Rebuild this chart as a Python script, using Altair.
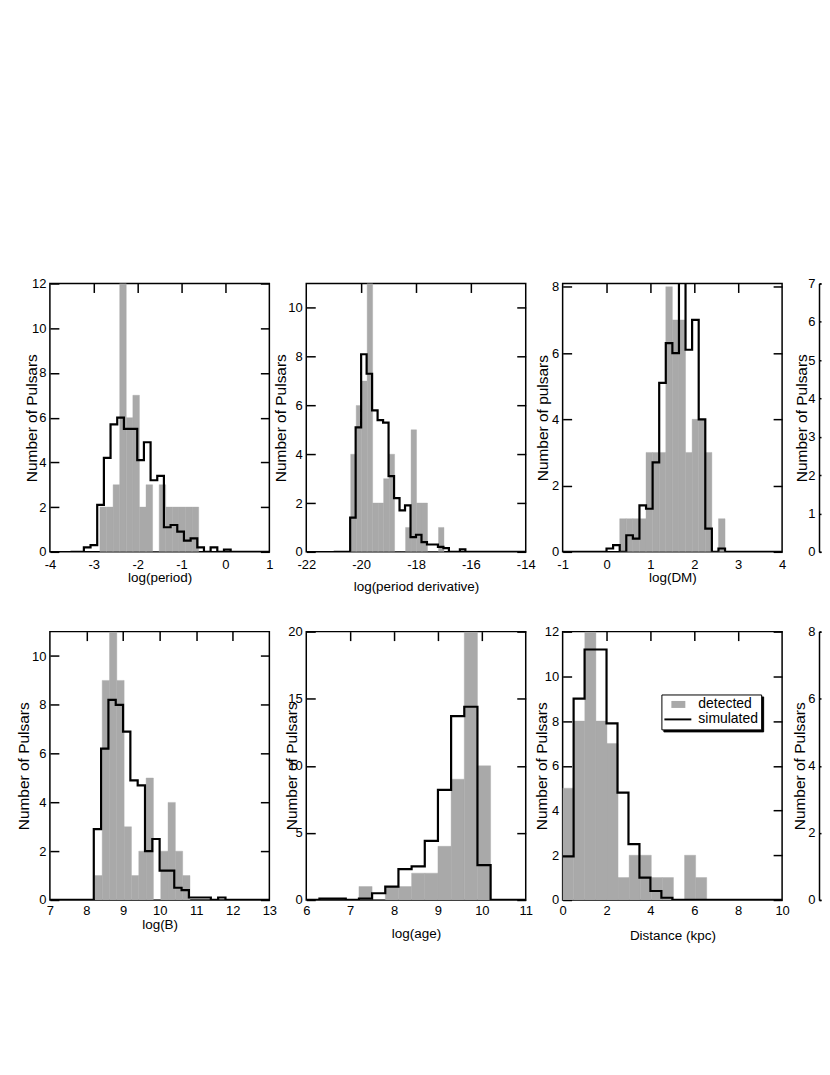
import altair as alt
import pandas as pd

FONT = "Liberation Sans"
GREY = "#a9a9a9"
W, H = 220, 269
W4 = 2  # visible strip of the cut-off fourth column

# ---------------- data ----------------
# detected = grey histogram bars (start of first bin, bin width, counts)
# simulated = black step line  (start of first bin, bin width, mean counts)

period_det_start, period_det_width = -2.86, 0.15
period_det = [2, 2, 3, 12, 6, 7, 2, 3, 0, 3, 2, 2, 2, 2, 2]
period_sim_start, period_sim_width = -3.53, 0.152
period_sim = [0, 0, 0.2, 0.3, 2.1, 4.2, 5.7, 6.0, 5.5, 5.5, 4.1, 4.9, 3.2, 3.4, 1.1,
              1.2, 0.9, 0.5, 0.6, 0.2, 0, 0.2, 0, 0.1, 0, 0, 0, 0, 0, 0, 0]

pdot_det_start, pdot_det_width = -20.38, 0.2
pdot_det = [4, 6, 7, 11, 2, 2, 3, 4, 0, 0, 1, 5, 2, 2, 0, 0, 1]
pdot_sim_start, pdot_sim_width = -21.0, 0.2
pdot_sim = [0, 0, 0, 1.4, 5.1, 8.1, 7.3, 5.8, 5.4, 5.3, 3.1, 2.2, 1.7, 1.9, 0.6,
            0.7, 0.4, 0.3, 0.3, 0.2, 0.15, 0, 0, 0.1, 0, 0, 0, 0, 0, 0, 0, 0, 0, 0, 0]

dm_det_start, dm_det_width = 0.30, 0.15
dm_det = [1, 1, 1, 1, 3, 3, 3, 8, 7, 7, 3, 4, 4, 3, 0, 1]
dm_sim_start, dm_sim_width = -1.05, 0.15
dm_sim = [0, 0, 0, 0, 0, 0, 0, 0.1, 0.2, 0, 0.5, 0.4, 1.4, 1.3, 2.7, 5.1, 6.3, 6.0,
          8.3, 6.1, 7.0, 4.0, 0.7, 0, 0.1, 0, 0, 0, 0, 0, 0, 0, 0, 0]

b_det_start, b_det_width = 8.23, 0.2
b_det = [1, 9, 11, 9, 3, 1, 2, 5, 0, 2, 4, 2, 1]
b_sim_start, b_sim_width = 7.0, 0.2
b_sim = [0, 0, 0, 0, 0, 0, 2.9, 6.2, 8.2, 8.0, 6.9, 4.9, 4.7, 2.0, 2.5, 1.2, 1.2,
         0.5, 0.4, 0.1, 0.1, 0.1, 0, 0.1, 0, 0, 0, 0, 0, 0]

age_det_start, age_det_width = 7.2, 0.3
age_det = [1, 0, 1, 1, 2, 2, 4, 9, 20, 10]
age_sim_start, age_sim_width = 6.0, 0.3
age_sim = [0, 0.1, 0.1, 0, 0.1, 0.5, 1.0, 2.3, 2.5, 4.4, 8.2, 13.7, 14.4, 2.6, 0, 0, 0]

dist_det_start, dist_det_width = 0.0, 0.505
dist_det = [5, 8, 12, 8, 7, 1, 2, 2, 1, 1, 0, 2, 1]
dist_sim_start, dist_sim_width = 0.0, 0.5
dist_sim = [1.95, 9.0, 11.2, 11.2, 7.9, 4.8, 2.5, 1.0, 0.4, 0.1,
            0, 0, 0, 0, 0, 0, 0, 0, 0, 0]

legend_labels = ["detected", "simulated"]


def hist_frame(start, width, values):
    edges = [start + i * width for i in range(len(values) + 1)]
    return pd.DataFrame({"x0": edges[:-1], "x1": edges[1:], "n": values})


def step_frame(start, width, values):
    edges = [start + i * width for i in range(len(values) + 1)]
    return pd.DataFrame({"x": edges, "n": list(values) + [values[-1]]})


EMPTY_HIST = pd.DataFrame({"x0": pd.Series([], dtype=float),
                           "x1": pd.Series([], dtype=float),
                           "n": pd.Series([], dtype=float)})
EMPTY_STEP = pd.DataFrame({"x": pd.Series([], dtype=float),
                           "n": pd.Series([], dtype=float)})

LABEL_EXPR = "datum.value + ''"


def tick_axis(orient, offset, values, size=9, domain=False):
    return alt.Axis(orient=orient, offset=offset, values=values, labels=False, ticks=True,
                    tickSize=size, tickWidth=1.5, tickColor="black", grid=False,
                    domain=domain, domainColor="black", domainWidth=1.5)


def panel(det, sim, xdom, xvals, topvals, ydom, yvals, xtitle, ytitle,
          ytitle_x, xtitle_y, xlabel_pad, width=W, cut=False, extra=None):
    xs = alt.Scale(domain=xdom, nice=False, zero=False)
    ys = alt.Scale(domain=ydom, nice=False, zero=False)
    bars = alt.Chart(det).mark_rect(color=GREY, stroke=GREY, strokeWidth=0.4, clip=True).encode(
        x=alt.X("x0:Q", scale=xs, title=xtitle,
                axis=alt.Axis(values=xvals, ticks=False, tickSize=0, grid=False,
                              domain=cut, domainColor="black", domainWidth=1.5,
                              labelPadding=xlabel_pad, labelBaseline="middle",
                              labelExpr=LABEL_EXPR, labelFlush=False, labelOverlap=False,
                              titleY=xtitle_y, titleBaseline="middle", titleFontSize=13.5)),
        x2="x1:Q",
        y=alt.Y("n:Q", scale=ys, title=ytitle,
                axis=alt.Axis(values=yvals, ticks=False, tickSize=0, grid=False,
                              domain=cut, domainColor="black", domainWidth=1.5,
                              labelPadding=4, labelFlush=False, labelExpr=LABEL_EXPR,
                              labelOverlap=False, titleX=ytitle_x, titleY=H / 2,
                              titleBaseline="alphabetic")),
        y2=alt.datum(0),
    )
    if cut:
        line_y_axis = None
    else:
        line_y_axis = tick_axis("left", -width, yvals)
    line = alt.Chart(sim).mark_line(interpolate="step-after", color="black",
                                     strokeWidth=2.2, clip=True).encode(
        x=alt.X("x:Q", scale=xs, title=None,
                axis=tick_axis("bottom", -H, topvals, domain=cut)),
        y=alt.Y("n:Q", scale=ys, title=None, axis=line_y_axis),
    )
    inner = alt.Chart(sim).mark_line(opacity=0, clip=True).encode(
        x=alt.X("x:Q", scale=xs, axis=None),
        y=alt.Y("n:Q", scale=ys, title=None,
                axis=tick_axis("right", -width, yvals, size=(width if cut else 9))),
    )
    layers = [bars, line, inner]
    if extra is not None:
        layers.extend(extra)
    out = alt.layer(*layers).resolve_axis(x="independent", y="independent").properties(
        width=width, height=H)
    if cut:
        out = out.properties(view=alt.ViewBackground(stroke="transparent"))
    return out


# legend: grey block and black line, boxed, with a dark drop shadow
RECT = "M0,-0.5H2V0.5H0Z"
LINE = "M-1,-0.14H2.86V0.14H-1Z"
LEG_X, LEG_Y = 99, 63
leg_common = dict(title=None, orient="none", symbolSize=196, symbolStrokeWidth=0,
                  symbolOpacity=1, labelFont=FONT, labelFontSize=14, labelOffset=20,
                  rowPadding=1, padding=3, labelColor="black", strokeColor="black")
# the shadow uses its own column so that its legend is not merged with the real one
shadow_layer = alt.Chart(pd.DataFrame({"shadow_series": legend_labels})).mark_point(
    filled=True, opacity=0).encode(
    stroke=alt.Stroke("shadow_series:N", scale=alt.Scale(range=["black", "black"]),
                      legend=alt.Legend(legendX=LEG_X + 2, legendY=LEG_Y + 2,
                                        fillColor="black", labelOpacity=0, zindex=1,
                                        **leg_common)),
)
legend_layer = alt.Chart(pd.DataFrame({"series": legend_labels})).mark_point(
    filled=True, opacity=0).encode(
    color=alt.Color("series:N", scale=alt.Scale(domain=legend_labels, range=[GREY, "black"]),
                    legend=alt.Legend(legendX=LEG_X, legendY=LEG_Y, fillColor="white",
                                      zindex=2, **leg_common)),
    shape=alt.Shape("series:N", scale=alt.Scale(domain=legend_labels, range=[RECT, LINE]),
                    legend=alt.Legend(legendX=LEG_X, legendY=LEG_Y, fillColor="white",
                                      zindex=2, **leg_common)),
)

p1 = panel(hist_frame(period_det_start, period_det_width, period_det),
           step_frame(period_sim_start, period_sim_width, period_sim),
           [-4, 1], [-4, -3, -2, -1, 0, 1], [-3, -2, -1, 0], [0, 12], [0, 2, 4, 6, 8, 10, 12],
           "log(period)", "Number of Pulsars", -13, 26, 13)
p2 = panel(hist_frame(pdot_det_start, pdot_det_width, pdot_det),
           step_frame(pdot_sim_start, pdot_sim_width, pdot_sim),
           [-22, -14], [-22, -20, -18, -16, -14], [-20, -18, -16], [0, 11], [0, 2, 4, 6, 8, 10],
           "log(period derivative)", "Number of Pulsars", -21, 35, 13)
p3 = panel(hist_frame(dm_det_start, dm_det_width, dm_det),
           step_frame(dm_sim_start, dm_sim_width, dm_sim),
           [-1, 4], [-1, 0, 1, 2, 3, 4], [0, 1, 2, 3], [0, 8.1], [0, 2, 4, 6, 8],
           "log(DM)", "Number of pulsars", -15, 26, 13)
p4 = panel(EMPTY_HIST, EMPTY_STEP,
           [-1.236, -1.19], [], [], [0, 7], [0, 1, 2, 3, 4, 5, 6, 7],
           "", "Number of Pulsars", -13, 26, 13, width=W4, cut=True)
p5 = panel(hist_frame(b_det_start, b_det_width, b_det),
           step_frame(b_sim_start, b_sim_width, b_sim),
           [7, 13], [7, 8, 9, 10, 11, 12, 13], [8, 9, 10, 11, 12], [0, 11], [0, 2, 4, 6, 8, 10],
           "log(B)", "Number of Pulsars", -21, 25, 11)
p6 = panel(hist_frame(age_det_start, age_det_width, age_det),
           step_frame(age_sim_start, age_sim_width, age_sim),
           [6, 11], [6, 7, 8, 9, 10, 11], [7, 8, 9, 10], [0, 20], [0, 5, 10, 15, 20],
           "log(age)", "Number of Pulsars", -10, 34, 11)
p7 = panel(hist_frame(dist_det_start, dist_det_width, dist_det),
           step_frame(dist_sim_start, dist_sim_width, dist_sim),
           [0, 10], [0, 2, 4, 6, 8, 10], [2, 4, 6, 8], [0, 12], [0, 2, 4, 6, 8, 10, 12],
           "Distance (kpc)", "Number of Pulsars", -16, 36, 11,
           extra=[shadow_layer, legend_layer])
p8 = panel(EMPTY_HIST, EMPTY_STEP,
           [-1.236, -1.19], [], [], [0, 8], [0, 2, 4, 6, 8],
           "", "Number of Pulsars", -15, 26, 11, width=W4, cut=True)

chart = alt.concat(p1, p2, p3, p4, p5, p6, p7, p8, columns=4,
                   spacing={"row": 80, "column": 37}, bounds="flush").resolve_scale(
    x="independent", y="independent", color="independent", stroke="independent",
    shape="independent"
).resolve_legend(color="independent", stroke="independent", shape="independent").properties(
    padding={"left": 8, "top": 268, "right": -1, "bottom": 5}
).configure_view(stroke="black", strokeWidth=1.5).configure_axis(
    labelFont=FONT, titleFont=FONT, labelFontSize=13, titleFontSize=15.5,
    labelColor="black", titleColor="black", titleFontWeight="normal",
    grid=False, domain=False, tickColor="black"
)

chart.save("out.html", embed_options={"renderer": "svg", "actions": False})
